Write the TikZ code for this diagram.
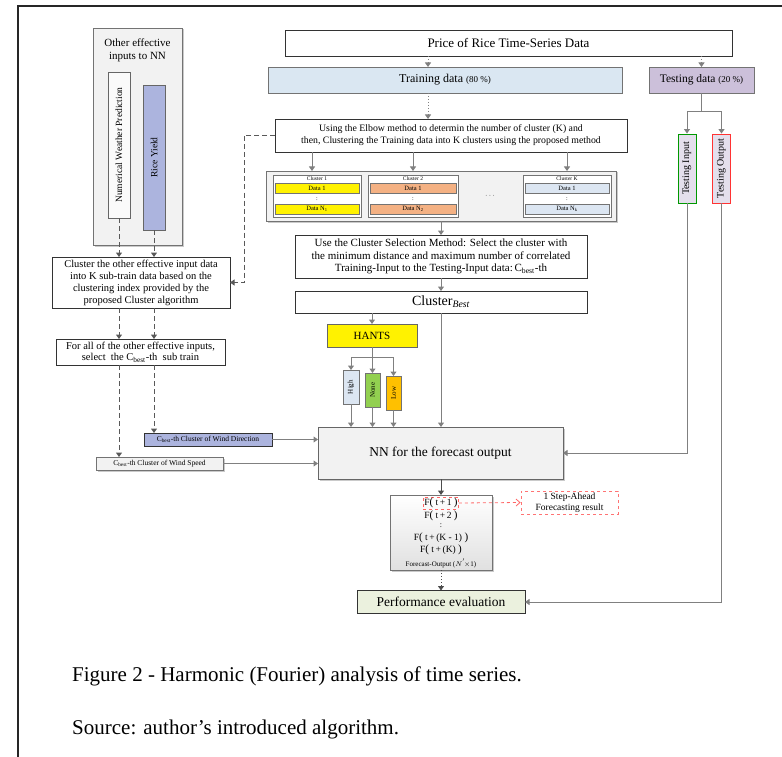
\documentclass[tikz,border=0pt]{standalone}
\usepackage{fontspec}
\setmainfont{Liberation Serif}
\usepackage{graphicx}
\usetikzlibrary{arrows.meta,shadows,calc}
\definecolor{trainblue}{HTML}{DAE7F2}
\definecolor{testpurple}{HTML}{CCC0DA}
\definecolor{lav}{HTML}{E4DFEC}
\definecolor{panel}{HTML}{F2F2F2}
\definecolor{periw}{HTML}{ACB4DE}
\definecolor{ctwo}{HTML}{F4B183}
\definecolor{clkblue}{HTML}{DCE6F2}
\definecolor{nonegreen}{HTML}{92D050}
\definecolor{loworange}{HTML}{FFC000}
\definecolor{perfgreen}{HTML}{EBF1DE}
\newcommand\fsz[2]{\fontsize{#1}{#2}\selectfont}
\newcommand\bp[1]{{\fsz{11}{11}#1}}
\begin{document}
\begin{tikzpicture}[x=1pt,y=-1pt,
  box/.style={draw=black!80, line width=0.8pt, fill=white, inner sep=0pt, outer sep=0pt, align=center},
  gbox/.style={box, draw=black!55},
  wh/.style 2 args={minimum width=#1pt, minimum height=#2pt},
  conn/.style={draw=black!50, line width=1pt},
  arr/.style={conn, -{Triangle[width=6pt,length=4.5pt]}},
  dotarr/.style={arr, dotted},
  dasharr/.style={arr, draw=black!65, dash pattern=on 5pt off 3pt},
  shad/.style={drop shadow={shadow xshift=1.5pt,shadow yshift=-1.5pt,opacity=0.35,fill=black!60}},
  txt/.style={inner sep=0pt, align=center}
]
\useasboundingbox (0,0) rectangle (782,757);
% frame
\draw[black!85, line width=1.2pt] (18,757) -- (18,6) -- (782,6);

% top row
\node[box, wh={447}{26}, font=\fsz{13}{15}] (top) at (508.5,43) {Price of Rice Time-Series Data};
\node[gbox, fill=trainblue, wh={354}{26}] (train) at (445,80) {\fsz{12}{14}Training data \fsz{9}{11}(80 \%)};
\node[gbox, fill=testpurple, wh={105}{26}] (test) at (701.5,80) {\fsz{11.5}{14}Testing data \fsz{9}{11}(20 \%)};
\node[box, wh={352}{33}, font=\fsz{9.8}{12}] (elbow) at (451,135.5) {Using the Elbow method to determin the number of cluster (K) and\\then, Clustering the Training data into K clusters using the proposed method};
\coordinate (ax) at (428,0);

% clusters
\node[gbox, fill=panel, wh={350}{50}, shad] (clout) at (441,196) {};
\node[gbox, fill=white, wh={88}{42}] (c1) at (317,196) {};
\node[gbox, fill=white, wh={90}{42}] (c2) at (413,196) {};
\node[gbox, fill=white, wh={88}{42}] (ck) at (567,196) {};
\node[txt, font=\fsz{5.5}{6}] (c1t) at (317,179) {Cluster 1};
\node[txt, font=\fsz{5.5}{6}] (c2t) at (413,179) {Cluster 2};
\node[txt, font=\fsz{5.5}{6}] (ckt) at (567,179) {Cluster K};
\node[gbox, fill=yellow, wh={84}{10}, font=\fsz{6.5}{7}] (c1a) at (317,188) {Data 1};
\node[gbox, fill=yellow, wh={84}{10}, font=\fsz{6.5}{7}] (c1b) at (317,209) {Data N\textsubscript{1}};
\node[gbox, fill=ctwo, wh={86}{10}, font=\fsz{6.5}{7}] (c2a) at (413,188) {Data 1};
\node[gbox, fill=ctwo, wh={86}{10}, font=\fsz{6.5}{7}] (c2b) at (413,209) {Data N\textsubscript{2}};
\node[gbox, fill=clkblue, wh={84}{10}, font=\fsz{6.5}{7}] (cka) at (567,188) {Data 1};
\node[gbox, fill=clkblue, wh={84}{10}, font=\fsz{6.5}{7}] (ckb) at (567,209) {Data N\textsubscript{k}};
\node[txt, font=\fsz{6}{7}] (c1d) at (317,199) {:};
\node[txt, font=\fsz{6}{7}] (c2d) at (413,199) {:};
\node[txt, font=\fsz{6}{7}] (ckd) at (567,199) {:};
\node[txt, font=\fsz{7}{8}] (cdots) at (490,196) {$\cdots$};

% selection
\node[box, wh={292}{43}, font=\fsz{11}{12.5}] (sel) at (441,256.5) {Use the Cluster Selection Method: Select the cluster with\\the minimum distance and maximum number of correlated\\Training-Input to the Testing-Input data:\,C\textsubscript{best}-th};
\node[box, wh={292}{22}, font=\fsz{14}{16}] (best) at (441,302) {Cluster\textsubscript{\itshape Best}};

% HANTS
\node[box, draw=black!60, fill=yellow, wh={90}{23}, font=\fsz{11}{13}] (hants) at (372,335.5) {HANTS};
\node[gbox, fill=clkblue, wh={16}{34}] (high) at (351,387) {\rotatebox{90}{\fsz{7}{8}High}};
\node[gbox, fill=nonegreen, wh={15}{34}] (none) at (372.5,390) {\rotatebox{90}{\fsz{7}{8}None}};
\node[gbox, fill=loworange, wh={15}{34}] (low) at (393.5,393) {\rotatebox{90}{\fsz{7}{8}Low}};

% NN
\node[box, draw=black!60, fill=panel, wh={245}{52}, font=\fsz{13.5}{15}, shad] (nn) at (440.5,453) {NN for the forecast output};
\node[box, fill=periw, wh={128}{13}, font=\fsz{7.5}{8}] (wdir) at (208,439.5) {C\textsubscript{best}-th Cluster of Wind Direction};
\node[gbox, fill=panel, wh={127}{13}, font=\fsz{7.5}{8}, shad] (wspd) at (159.5,463.5) {C\textsubscript{best}-th Cluster of Wind Speed};

% output
\node[gbox, top color=white, bottom color=black!12, wh={102}{75}, shad] (out) at (441,532.5) {};
\node[draw=red!60, dashed, line width=0.7pt, inner sep=1pt, font=\fsz{9.5}{10}] (f1) at (441,503) {F\bp{(} t\,+\,1 \bp{)}};
\node[txt, font=\fsz{9.5}{10}] (f2) at (441,515.5) {F\bp{(} t\,+\,2 \bp{)}};
\node[txt, font=\fsz{8}{8}] (fd) at (441,526) {:};
\node[txt, font=\fsz{9.5}{10}] (fk1) at (441,537.5) {F\bp{(} t\,+\,(K - 1) \bp{)}};
\node[txt, font=\fsz{9.5}{10}] (fk) at (441,549.5) {F\bp{(} t\,+\,(K) \bp{)}};
\node[txt, font=\fsz{7}{8}] (fo) at (441,563) {Forecast-Output ($N^{'}\!\times$1)};
\node[draw=red!55, dashed, line width=0.8pt, wh={97}{23}, align=center, inner sep=0pt, font=\fsz{9.5}{11}] (step) at (569.5,502.5) {1 Step-Ahead\\Forecasting result};
\node[box, fill=perfgreen, wh={168}{23}, font=\fsz{13.5}{15}] (perf) at (441,602) {Performance evaluation};

% left column
\node[gbox, fill=panel, wh={89}{217}, shad] (other) at (137.5,136.5) {};
\node[txt, font=\fsz{11}{13}] (othert) at (137.5,50.5) {Other effective\\inputs to NN};
\node[gbox, draw=black!60, fill=panel!40, wh={22}{146}] (nwp) at (119,145) {\rotatebox{90}{\fsz{9.5}{10}Numerical Weather Prediction}};
\node[gbox, draw=black!60, fill=periw, wh={22}{145}] (ry) at (154,157.5) {\rotatebox{90}{\fsz{9.5}{10}Rice Yield}};
\node[box, wh={178}{51}, font=\fsz{10.5}{12}] (clo) at (141,282.5) {Cluster the other effective input data\\into K sub-train data based on the\\clustering index provided by the\\proposed Cluster algorithm};
\node[box, wh={169}{26}, font=\fsz{10.5}{11.5}] (fa) at (140.5,352) {For all of the other effective inputs,\\select\ \ the C\textsubscript{best}-th\ \ sub train};

% testing
\node[draw=green!60!black, fill=lav, line width=0.9pt, inner sep=0pt, wh={18}{69}] (tin) at (687,168.5) {\rotatebox{90}{\fsz{10}{11}Testing Input}};
\node[draw=red!80, fill=lav, line width=0.9pt, inner sep=0pt, wh={18}{69}] (tout) at (721.5,168.5) {\rotatebox{90}{\fsz{10}{11}Testing Output}};

% caption
\node[anchor=base west, inner sep=0pt, font=\fsz{21}{23}] (cap1) at (72,681) {Figure 2 - Harmonic (Fourier) analysis of time series.};
\node[anchor=base west, inner sep=0pt, font=\fsz{21}{23}] (cap2) at (72,734) {Source: author’s introduced algorithm.};

% connectors
\draw[dotarr] (top.south -| ax) -- (train.north -| ax);
\draw[dotarr] (top.south -| test) -- (test.north);
\draw[dotarr] (train.south -| ax) -- (elbow.north -| ax);
\coordinate (tj) at (701.5,112);
\draw[conn] (test.south) -- (tj);
\draw[arr] (tj) -| (tin.north);
\draw[arr] (tj) -| (tout.north);
\draw[arr] (elbow.south -| 312,0) -- (clout.north -| 312,0);
\draw[arr] (elbow.south -| c2) -- (clout.north -| c2);
\draw[arr] (elbow.south -| ck) -- (clout.north -| ck);
\coordinate (k1) at (244,282.5);
\draw[dasharr] (elbow.west) -| (k1) -- (clo.east);
\draw[arr] (clout.south -| sel) -- (sel.north);
\draw[arr] (sel.south) -- (best.north);
\draw[arr] (best.south -| hants) -- (hants.north);
\draw[arr] (best.south) -- (best.south |- nn.north);
\coordinate (hj) at (372,357);
\draw[conn] (hants.south) -- (hj);
\draw[arr] (hj) -| (high.north);
\draw[arr] (hj) -| (none.north);
\draw[arr] (hj) -| (low.north);
\draw[arr] (high.south) -- (high.south |- nn.north);
\draw[arr] (none.south) -- (none.south |- nn.north);
\draw[arr] (low.south) -- (low.south |- nn.north);
\draw[dasharr] (nwp.south) -- (nwp.south |- clo.north);
\draw[dasharr] (ry.south) -- (ry.south |- clo.north);
\draw[dasharr] (clo.south -| nwp) -- (fa.north -| nwp);
\draw[dasharr] (clo.south -| ry) -- (fa.north -| ry);
\draw[dasharr] (fa.south -| nwp) -- (wspd.north -| nwp);
\draw[dasharr] (fa.south -| ry) -- (wdir.north -| ry);
\draw[arr] (wdir.east) -- (wdir.east -| nn.west);
\draw[arr] (wspd.east) -- (wspd.east -| nn.west);
\draw[arr] (tin.south) |- (nn.east);
\draw[arr] (tout.south) |- (perf.east);
\draw[arr, draw=black!70] (nn.south -| out) -- (out.north);
\draw[dotarr, draw=black!70] (out.south) -- (perf.north);
\draw[red!60, dashed, line width=0.8pt, -{Straight Barb[length=4pt,width=7pt]}] (f1.east) -- (step.west);
\end{tikzpicture}
\end{document}
